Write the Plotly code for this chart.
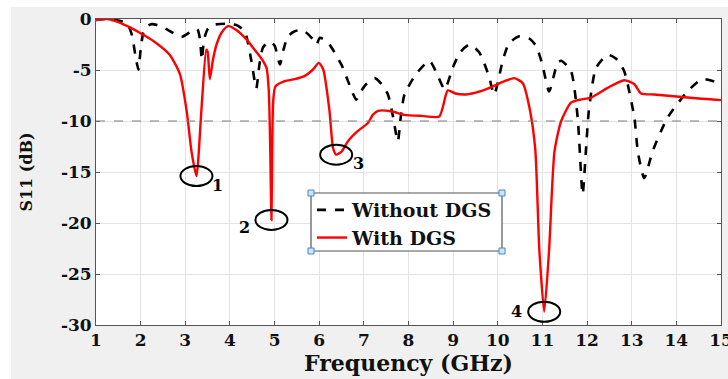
import numpy as np
import plotly.graph_objects as go

# ---------------- data ----------------
freq_without = [1.0, 1.2, 1.45, 1.69, 1.80, 1.88, 1.95, 2.0, 2.06, 2.15, 2.25, 2.45, 2.66, 2.92, 3.14, 3.27,
                3.33, 3.37, 3.42, 3.5, 3.6, 3.92, 4.15, 4.33, 4.48, 4.59, 4.66, 4.74, 4.89, 5.0, 5.12, 5.2,
                5.30, 5.45, 5.64, 5.86, 5.94, 6.01, 6.1, 6.23, 6.5, 6.7, 6.83, 6.95, 7.05, 7.24, 7.4, 7.54,
                7.65, 7.76, 7.83, 7.91, 8.17, 8.47, 8.66, 8.81, 8.99, 9.15, 9.37, 9.59, 9.8, 9.92, 10.11,
                10.25, 10.48, 10.7, 10.86, 11.0, 11.15, 11.34, 11.42, 11.64, 11.79, 11.90, 11.98, 12.04,
                12.2, 12.46, 12.65, 12.83, 13.06, 13.14, 13.28, 13.47, 13.8, 14.25, 14.58, 14.96]
s11_without = [-0.1, 0.0, -0.1, -0.4, -1.5, -3.5, -4.95, -3.0, -1.35, -0.7, -0.5, -0.7, -1.2, -1.75, -1.2, -1.0,
               -2.0, -4.0, -2.0, -1.0, -0.6, -0.46, -0.6, -1.2, -4.1, -6.8, -4.5, -2.8, -2.2, -2.6, -4.45, -3.0,
               -1.7, -1.2, -1.1, -2.0, -2.5, -1.85, -2.0, -2.5, -4.5, -6.7, -7.9, -7.0, -6.4, -5.8, -6.4, -7.4,
               -9.5, -12.0, -9.5, -7.4, -5.4, -4.1, -5.6, -6.9, -4.8, -3.3, -2.5, -3.3, -5.6, -7.4, -4.1,
               -2.4, -1.7, -1.9, -2.65, -4.5, -7.1, -4.3, -4.1, -5.1, -9.7, -17.2, -12.5, -9.0,
               -4.8, -3.5, -3.9, -5.1, -9.7, -13.1, -15.6, -12.95, -9.7, -7.1, -5.9, -6.3]

freq_with = [1.0, 1.25, 1.5, 1.75, 2.0, 2.3, 2.65, 2.88, 3.03, 3.14, 3.25, 3.36, 3.47, 3.50, 3.55, 3.62,
             3.70, 3.82, 3.96, 4.15, 4.37, 4.55, 4.74, 4.82, 4.87, 4.90, 4.93, 4.95, 4.97, 5.02, 5.23,
             5.45, 5.67, 5.85, 5.99, 6.09, 6.23, 6.31, 6.38, 6.50, 6.64, 6.86, 7.09, 7.2, 7.32, 7.61,
             7.91, 8.3, 8.69, 8.88, 9.05, 9.29, 9.6, 9.89, 10.15, 10.37, 10.56, 10.71, 10.84, 10.93,
             11.04, 11.15, 11.27, 11.42, 11.64, 11.85, 12.09, 12.46, 12.83, 13.06, 13.21, 13.5, 14.0,
             14.5, 15.0]
s11_with = [-0.1, 0.0, -0.3, -0.8, -1.4, -2.2, -3.5, -5.4, -9.0, -13.0, -15.4, -9.0, -3.0, -3.2, -5.9, -4.0,
            -2.5, -1.3, -0.7, -1.1, -2.0, -3.0, -4.1, -4.8, -7.0, -12.0, -19.7, -12.0, -8.0, -6.6, -6.1,
            -5.9, -5.6, -5.0, -4.3, -4.95, -9.0, -12.65, -13.3, -13.0, -12.0, -11.0, -10.2, -9.4, -9.0, -9.05,
            -9.4, -9.5, -9.55, -7.0, -7.3, -7.4, -7.1, -6.6, -6.1, -5.8, -6.3, -8.7, -12.8, -22.6,
            -28.7, -22.6, -13.0, -10.0, -8.2, -7.9, -7.7, -6.75, -6.0, -6.4, -7.3, -7.4, -7.6,
            -7.8, -7.95]

ref_level = -10
x_ticks = list(range(1, 16))
y_ticks = [0, -5, -10, -15, -20, -25, -30]
resonance_labels = ["1", "2", "3", "4"]
resonance_windows = [(3.0, 3.5), (4.8, 5.1), (6.2, 6.6), (10.8, 11.3)]
label_offsets = [(21, 9), (-27, 8), (22, 9), (-28, 0)]

FONT = "DejaVu Serif, Liberation Serif, serif"

fig = go.Figure()
fig.add_trace(go.Scatter(x=freq_without, y=s11_without, mode="lines", name="<b>Without DGS</b>",
                         line=dict(color="black", width=2.6, dash="dash", shape="spline", smoothing=0.6)))
fig.add_trace(go.Scatter(x=freq_with, y=s11_with, mode="lines", name="<b>With DGS</b>",
                         line=dict(color="#ff0000", width=2.4, shape="spline", smoothing=0.6)))

shapes = []
shapes.append(dict(type="line", xref="paper", x0=0, x1=1, yref="y", y0=ref_level, y1=ref_level,
                   line=dict(color="#7f7f7f", width=1.2, dash="dash"), layer="above"))

fw = np.array(freq_with)
sw = np.array(s11_with)
annotations = []
for lab, (a, b), (dx, dy) in zip(resonance_labels, resonance_windows, label_offsets):
    m = (fw >= a) & (fw <= b)
    idx = np.where(m)[0][np.argmin(sw[m])]
    xm, ym = float(fw[idx]), float(sw[idx])
    shapes.append(dict(type="circle", xref="x", yref="y", xsizemode="pixel", ysizemode="pixel",
                       xanchor=xm, yanchor=ym, x0=-16, x1=16, y0=-10, y1=10,
                       line=dict(color="black", width=2)))
    annotations.append(dict(x=xm, y=ym, xref="x", yref="y", text="<b>%s</b>" % lab, showarrow=False,
                            xshift=dx, yshift=-dy, font=dict(family=FONT, size=16, color="black")))

def px(xp):
    return (xp - 96) / 625.0
def py(yp):
    return (325 - yp) / 306.0

shapes.append(dict(type="rect", xref="paper", yref="paper", x0=px(0), x1=px(11), y0=py(379), y1=py(0),
                   fillcolor="white", line=dict(width=0), layer="above"))
shapes.append(dict(type="rect", xref="paper", yref="paper", x0=px(0), x1=px(728), y0=py(7), y1=py(0),
                   fillcolor="white", line=dict(width=0), layer="above"))

lx0, lx1, ly0, ly1 = 311, 502, 193, 251
shapes.append(dict(type="rect", xref="paper", yref="paper", x0=px(lx0), x1=px(lx1), y0=py(ly1), y1=py(ly0),
                   fillcolor="white", line=dict(color="#555555", width=1.2), layer="above"))
for hx in (lx0, lx1):
    for hy in (ly0, ly1):
        shapes.append(dict(type="rect", xref="paper", yref="paper", xsizemode="pixel", ysizemode="pixel",
                           xanchor=px(hx), yanchor=py(hy), x0=-3, x1=3, y0=-3, y1=3,
                           fillcolor="#cfe3f5", line=dict(color="#3d8bd0", width=1), layer="above"))

axis_common = dict(showgrid=True, gridcolor="#e3e3e3", gridwidth=1, zeroline=False,
                   showline=True, linecolor="#555555", linewidth=1, mirror="ticks",
                   ticks="inside", ticklen=4, tickcolor="#555555", automargin=False,
                   ticklabeloverflow="allow",
                   tickfont=dict(family=FONT, size=17, color="#111111"))

fig.update_layout(
    width=728, height=379,
    margin=dict(l=96, r=7, t=19, b=54),
    paper_bgcolor="#f0f0f0", plot_bgcolor="white",
    showlegend=True,
    legend=dict(x=px(312), y=py(191), xanchor="left", yanchor="top", bgcolor="rgba(0,0,0,0)",
                borderwidth=0, font=dict(family=FONT, size=19, color="#111111"), tracegroupgap=0,
                itemwidth=30),
    xaxis=dict(range=[1, 15], tickvals=x_ticks, ticktext=["<b>%d</b>" % v for v in x_ticks],
               title=dict(text="<b>Frequency (GHz)</b>", font=dict(family=FONT, size=22, color="#111111"),
                          standoff=6), **axis_common),
    yaxis=dict(range=[-30, 0], tickvals=y_ticks, ticktext=["<b>%d</b>" % v for v in y_ticks],
               title=dict(text="<b>S11 (dB)</b>", font=dict(family=FONT, size=16, color="#111111"),
                          standoff=24), **axis_common),
    shapes=shapes,
    annotations=annotations,
)

fig.write_html("out.html", config={"displayModeBar": False},
               post_script="document.body.style.margin='0px';document.body.style.padding='0px';")
